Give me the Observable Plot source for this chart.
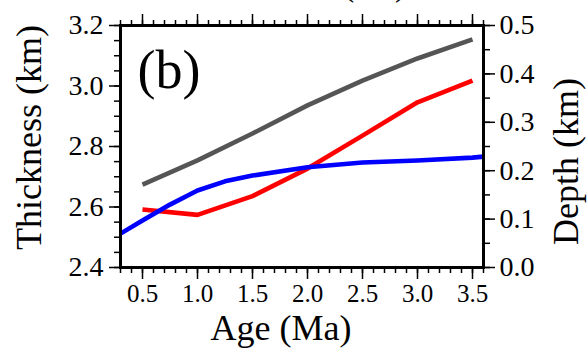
<!DOCTYPE html>
<html>
<head>
<meta charset="utf-8">
<script src="https://cdn.jsdelivr.net/npm/d3@7"></script>
<script src="https://cdn.jsdelivr.net/npm/@observablehq/plot@0.6"></script>
<style>
  html, body { margin: 0; padding: 0; background: white; }
  #chart svg { display: block; }
</style>
</head>
<body>
<div id="chart"></div>
<script>
// ---- data ----
const ages = [0.5, 1.0, 1.5, 2.0, 2.5, 3.0, 3.5];
const grayThickness = [2.674, 2.754, 2.843, 2.936, 3.018, 3.091, 3.154];
const redThickness = [2.592, 2.574, 2.636, 2.727, 2.836, 2.946, 3.018];
const blueAges = [0.3, 0.5, 0.75, 1.0, 1.25, 1.5, 2.0, 2.5, 3.0, 3.5, 3.6];
const blueDepth = [0.070, 0.097, 0.130, 0.159, 0.178, 0.190, 0.207, 0.217, 0.221, 0.227, 0.229];

const xMajorTicks = [0.5, 1.0, 1.5, 2.0, 2.5, 3.0, 3.5];
const xMinorTicks = d3.range(3, 37).map(i => i / 10);
const thicknessMajorTicks = [2.4, 2.6, 2.8, 3.0, 3.2];
const thicknessMinorTicks = d3.range(48, 65).map(i => i / 20);
const depthMajorTicks = [0.0, 0.1, 0.2, 0.3, 0.4, 0.5];
const depthMinorTicks = d3.range(0, 11).map(i => i / 20);

// depth (right axis, 0–0.5 km) shares the frame with thickness (left axis, 2.4–3.2 km)
const depthToThickness = d => 2.4 + d * 1.6;
const thicknessToDepth = t => (t - 2.4) / 1.6;

const gray = ages.map((a, i) => ({age: a, v: grayThickness[i]}));
const red = ages.map((a, i) => ({age: a, v: redThickness[i]}));
const blue = blueAges.map((a, i) => ({age: a, v: depthToThickness(blueDepth[i])}));

const font = "Liberation Serif";
const empty = () => "";

const chart = Plot.plot({
  width: 587,
  height: 348,
  marginLeft: 120,
  marginRight: 104,
  marginTop: 25,
  marginBottom: 81,
  x: {domain: [0.3, 3.6]},
  y: {domain: [2.4, 3.2]},
  style: {fontFamily: font, background: "white", color: "black", overflow: "hidden"},
  marks: [
    Plot.line(gray, {x: "age", y: "v", stroke: "#555555", strokeWidth: 4.6, strokeLinecap: "butt"}),
    Plot.line(red, {x: "age", y: "v", stroke: "#ff0000", strokeWidth: 4.6, strokeLinecap: "butt"}),
    Plot.line(blue, {x: "age", y: "v", stroke: "#0000ff", strokeWidth: 4.6, strokeLinecap: "butt"}),
    Plot.frame({stroke: "black", strokeWidth: 3}),
    // bottom axis
    Plot.axisX(xMinorTicks, {anchor: "bottom", tickSize: 6, strokeWidth: 1.5, tickFormat: empty, label: null}),
    Plot.axisX(xMajorTicks, {anchor: "bottom", tickSize: 12, strokeWidth: 1.5, tickPadding: 5, tickFormat: d => d.toFixed(1), fontSize: 25, label: null}),
    // top axis (ticks only)
    Plot.axisX(xMinorTicks, {anchor: "top", tickSize: 6, strokeWidth: 1.5, tickFormat: empty, label: null}),
    Plot.axisX(xMajorTicks, {anchor: "top", tickSize: 12, strokeWidth: 1.5, tickFormat: empty, label: null}),
    // left axis: thickness
    Plot.axisY(thicknessMinorTicks, {anchor: "left", tickSize: 6, strokeWidth: 1.5, tickFormat: empty, label: null}),
    Plot.axisY(thicknessMajorTicks, {anchor: "left", tickSize: 11, strokeWidth: 1.5, tickPadding: 6, tickFormat: d => d.toFixed(1), fontSize: 28, label: null}),
    // right axis: depth
    Plot.axisY(depthMinorTicks.map(depthToThickness), {anchor: "right", tickSize: 6, strokeWidth: 1.5, tickFormat: empty, label: null}),
    Plot.axisY(depthMajorTicks.map(depthToThickness), {anchor: "right", tickSize: 11, strokeWidth: 1.5, tickPadding: 5, tickFormat: t => Math.abs(thicknessToDepth(t)).toFixed(1), fontSize: 28, label: null}),
    // axis titles
    Plot.text(["Thickness (km)"], {text: d => d, frameAnchor: "left", rotate: -90, dx: -80, dy: -9, fontSize: 36, textAnchor: "middle", lineAnchor: "bottom"}),
    Plot.text(["Depth (km)"], {text: d => d, frameAnchor: "right", rotate: -90, dx: 94, dy: 15, fontSize: 36, textAnchor: "middle", lineAnchor: "bottom"}),
    Plot.text(["Age (Ma)"], {text: d => d, frameAnchor: "bottom", dx: -21, dy: 72, fontSize: 36, textAnchor: "middle", lineAnchor: "bottom"}),
    // panel label
    Plot.text(["(b)"], {text: d => d, frameAnchor: "top-left", dx: 17, dy: 62, fontSize: 54, textAnchor: "start", lineAnchor: "bottom"}),
    // cropped text from the panel above
    Plot.text(["(km)"], {text: d => d, frameAnchor: "top-left", dx: 223, dy: -29.5, fontSize: 32, textAnchor: "start", lineAnchor: "bottom"})
  ]
});
document.getElementById("chart").appendChild(chart);
</script>
</body>
</html>
